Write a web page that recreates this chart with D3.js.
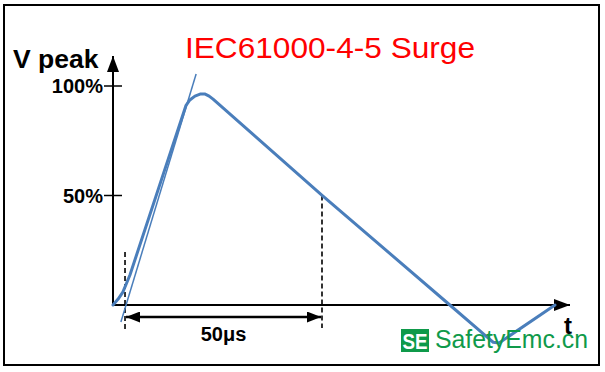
<!DOCTYPE html>
<html>
<head>
<meta charset="utf-8">
<script src="https://cdn.jsdelivr.net/npm/d3@7"></script>
<style>
  body { margin: 0; background: #fff; }
  text { font-family: "Liberation Sans", Arial, sans-serif; }
</style>
</head>
<body>
<div id="chart"></div>
<script>
/* DATA */
// surge waveform, time in microseconds, voltage in % of peak
let waveTime = [0, 1.3, 2.5, 4.3, 18.5, 19.5, 20.8, 22.1, 23.4, 24.4, 25.4, 53.0, 85.5, 94.9, 96.5, 98.0, 112.2]
let waveVolt = [0, 2.7, 5.9, 13.7, 91.0, 93.6, 95.4, 96.3, 96.3, 95.4, 94.0, 50.2, 0, -14.6, -17.0, -17.3, 0]

// tangent through the front of the wave
let tangentTime = [2.0, 21.1]
let tangentVolt = [-7.8, 105.5]

// virtual origin and 50% point on the tail
let markTime = [3.05, 53.05]
let markLabel = "50μs"

let tickValues = [100, 50]
let tickLabels = ["100%", "50%"]

let title = "IEC61000-4-5 Surge"
let yTitle = "V peak"
let xTitle = "t"

/* SVG OBJECT */
let svgWidth = 605
let svgHeight = 372

let svg = d3.select('#chart').append('svg').attr("height", svgHeight).attr("width", svgWidth)

// frame
svg.append("rect")
    .attr("x", 4).attr("y", 5).attr("width", 595).attr("height", 360)
    .attr("fill", "none").attr("stroke", "#000").attr("stroke-width", 2)

/* SCALES */
let x = d3.scaleLinear().domain([0, 116]).range([113, 570])
let y = d3.scaleLinear().domain([0, 100]).range([305, 86])

let blue = "#4a7ebb"

// arrow marker
let defs = svg.append("defs")
function arrowMarker(id, w, h) {
    defs.append("marker")
        .attr("id", id)
        .attr("viewBox", `0 0 ${w} ${h}`)
        .attr("refX", w).attr("refY", h / 2)
        .attr("markerWidth", w).attr("markerHeight", h)
        .attr("markerUnits", "userSpaceOnUse")
        .attr("orient", "auto-start-reverse")
        .append("path")
        .attr("d", `M0,0 L${w},${h / 2} L0,${h} Z`)
        .attr("fill", "#000")
}
arrowMarker("axisArrow", 16, 12)
arrowMarker("dimArrow", 14, 11)

/* AXES */
svg.append("line")
    .attr("x1", x(0)).attr("x2", x(0))
    .attr("y1", y(0)).attr("y2", 56)
    .attr("stroke", "#000").attr("stroke-width", 2)
    .attr("marker-end", "url(#axisArrow)")

svg.append("line")
    .attr("x1", x(0)).attr("x2", x(116))
    .attr("y1", y(0)).attr("y2", y(0))
    .attr("stroke", "#000").attr("stroke-width", 2)
    .attr("marker-end", "url(#axisArrow)")

// y ticks
tickValues.forEach((v, i) => {
    svg.append("line")
        .attr("x1", x(0) - 9).attr("x2", x(0) + 9)
        .attr("y1", y(v)).attr("y2", y(v))
        .attr("stroke", "#000").attr("stroke-width", 1.5)
    svg.append("text")
        .attr("x", x(0) - 10).attr("y", y(v) + 7)
        .attr("text-anchor", "end")
        .attr("font-size", 20).attr("font-weight", "bold")
        .text(tickLabels[i])
})

svg.append("text")
    .attr("x", 13).attr("y", 68)
    .attr("font-size", 26.5).attr("font-weight", "bold")
    .text(yTitle)

svg.append("text")
    .attr("x", 564).attr("y", 334)
    .attr("font-size", 24).attr("font-weight", "bold")
    .text(xTitle)

/* DIMENSION MARKS */
svg.append("line")
    .attr("x1", x(markTime[0])).attr("x2", x(markTime[0]))
    .attr("y1", 252).attr("y2", 330)
    .attr("stroke", "#000").attr("stroke-width", 1.6).attr("stroke-dasharray", "5,3")

svg.append("line")
    .attr("x1", x(markTime[1])).attr("x2", x(markTime[1]))
    .attr("y1", y(50)).attr("y2", 328)
    .attr("stroke", "#000").attr("stroke-width", 1.6).attr("stroke-dasharray", "5,3")

svg.append("line")
    .attr("x1", x(markTime[0]) + 1).attr("x2", x(markTime[1]) - 1)
    .attr("y1", 317).attr("y2", 317)
    .attr("stroke", "#000").attr("stroke-width", 2.5)
    .attr("marker-start", "url(#dimArrow)")
    .attr("marker-end", "url(#dimArrow)")

svg.append("text")
    .attr("x", (x(markTime[0]) + x(markTime[1])) / 2).attr("y", 341)
    .attr("text-anchor", "middle")
    .attr("font-size", 20).attr("font-weight", "bold")
    .text(markLabel)

/* WAVEFORM */
let wave = waveTime.map((t, i) => [t, waveVolt[i]])
let tangent = tangentTime.map((t, i) => [t, tangentVolt[i]])

let line = d3.line().x(d => x(d[0])).y(d => y(d[1]))

svg.append("path")
    .attr("d", line(tangent))
    .attr("fill", "none").attr("stroke", blue).attr("stroke-width", 1.5)

svg.append("path")
    .attr("d", line(wave))
    .attr("fill", "none").attr("stroke", blue).attr("stroke-width", 3)
    .attr("stroke-linejoin", "round").attr("stroke-linecap", "round")

/* TITLE */
svg.append("text")
    .attr("x", 185).attr("y", 58)
    .attr("font-family", "'Noto Sans', sans-serif")
    .attr("font-size", 29).attr("fill", "#ff0000")
    .attr("textLength", 290).attr("lengthAdjust", "spacingAndGlyphs")
    .text(title)

/* WATERMARK */
let green = "#0f9a4a"
svg.append("rect")
    .attr("x", 401).attr("y", 329).attr("width", 28).attr("height", 23)
    .attr("fill", green)
svg.append("text")
    .attr("x", 415).attr("y", 349)
    .attr("text-anchor", "middle")
    .attr("font-family", "'Noto Sans', sans-serif")
    .attr("font-size", 22).attr("font-weight", "bold").attr("fill", "#fff")
    .attr("textLength", 25).attr("lengthAdjust", "spacingAndGlyphs")
    .text("SE")
svg.append("text")
    .attr("x", 435).attr("y", 348)
    .attr("font-family", "'Noto Sans', sans-serif")
    .attr("font-size", 25).attr("fill", green)
    .attr("textLength", 153).attr("lengthAdjust", "spacingAndGlyphs")
    .text("SafetyEmc.cn")
</script>
</body>
</html>
